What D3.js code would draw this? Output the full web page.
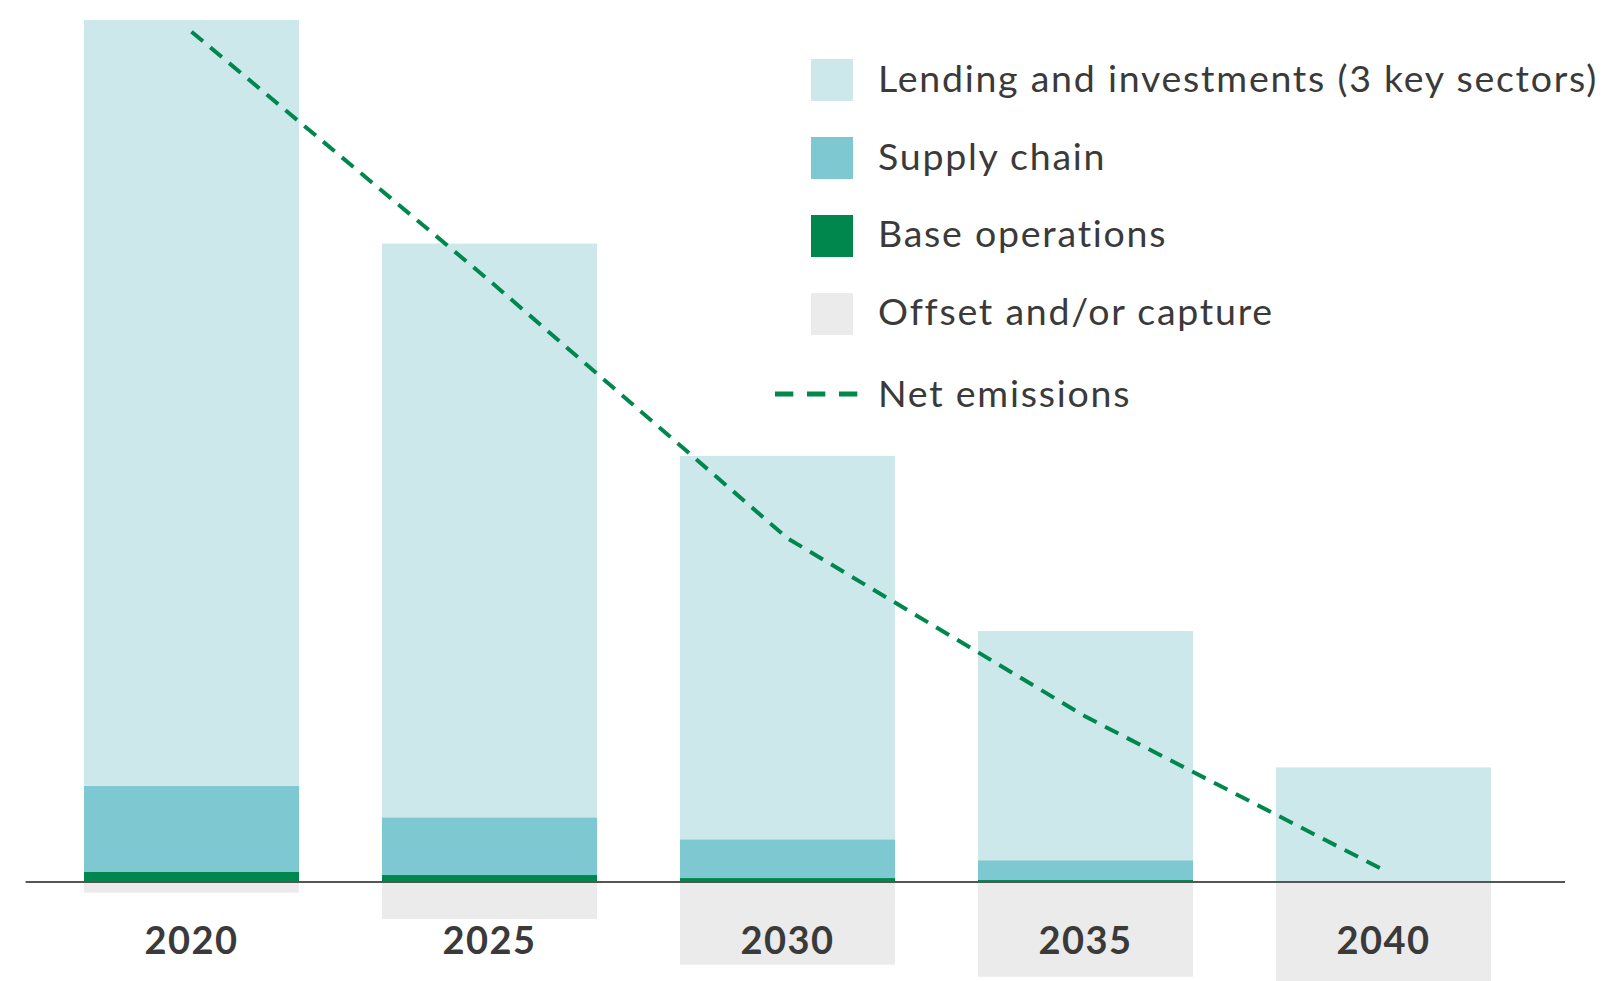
<!DOCTYPE html>
<html>
<head>
<meta charset="utf-8">
<script src="https://cdn.jsdelivr.net/npm/d3@7"></script>
<style>
  html, body { margin: 0; padding: 0; background: #fff; overflow: hidden; }
  svg { display: block; }
  text { font-family: Lato, "Open Sans", sans-serif; }
</style>
</head>
<body>
<svg id="chart" width="1604" height="981"></svg>
<script>
// ---- data ----
const years = ["2020", "2025", "2030", "2035", "2040"];
const lending = [88.9, 66.6, 44.5, 26.6, 13.3];
const supplyChain = [10.0, 6.7, 4.5, 2.3, 0];
const baseOps = [1.16, 0.81, 0.46, 0.23, 0];
const offsetCapture = [-1.24, -4.3, -9.6, -11.0, -11.9];
const netEmissions = [98.7, 69.8, 39.9, 19.2, 1.4];
const legendLabels = ["Lending and investments (3 key sectors)", "Supply chain", "Base operations", "Offset and/or capture", "Net emissions"];

// ---- styles ----
const colors = {
  lending: "#cce8eb",
  supply: "#7ec9d1",
  base: "#00874e",
  offset: "#ebebeb",
  net: "#00874e",
  axis: "#555555",
  text: "#3a3a3a"
};

const svg = d3.select("#chart");

const x = d3.scaleBand()
  .domain(years)
  .range([42.5, 1532.5])
  .paddingInner(0.2785)
  .paddingOuter(0.13925);

const y = d3.scaleLinear()
  .domain([0, 100])
  .range([882, 20.5]);

const rows = years.map((yr, i) => ({
  year: yr,
  base: baseOps[i],
  supply: supplyChain[i],
  lending: lending[i],
  offset: offsetCapture[i],
  net: netEmissions[i]
}));

const stack = d3.stack().keys(["base", "supply", "lending"]);
const series = stack(rows);
const keyColor = { base: colors.base, supply: colors.supply, lending: colors.lending };

// offset bars (below zero)
svg.append("g").selectAll("rect")
  .data(rows)
  .join("rect")
  .attr("x", d => x(d.year))
  .attr("width", x.bandwidth())
  .attr("y", y(0))
  .attr("height", d => y(d.offset) - y(0))
  .attr("fill", colors.offset);

// stacked positive bars
svg.append("g").selectAll("g")
  .data(series)
  .join("g")
  .attr("fill", s => keyColor[s.key])
  .selectAll("rect")
  .data(s => s)
  .join("rect")
  .attr("x", d => x(d.data.year))
  .attr("width", x.bandwidth())
  .attr("y", d => y(d[1]))
  .attr("height", d => Math.max(0, y(d[0]) - y(d[1])));

// baseline
svg.append("line")
  .attr("x1", 25.6).attr("x2", 1565)
  .attr("y1", y(0)).attr("y2", y(0))
  .attr("stroke", colors.axis)
  .attr("stroke-width", 2);

// x-axis labels
const xAxis = d3.axisBottom(x).tickSize(0).tickPadding(0);
const gx = svg.append("g")
  .attr("transform", `translate(0, ${y(0)})`)
  .call(xAxis);
gx.select(".domain").remove();
gx.selectAll("text")
  .attr("dy", null)
  .attr("y", 72)
  .attr("font-size", 38)
  .attr("font-weight", 700)
  .attr("letter-spacing", 1.5)
  .attr("font-family", "Lato, 'Open Sans', sans-serif")
  .attr("fill", colors.text);

// net emissions dashed line
const line = d3.line()
  .x((d, i) => x(years[i]) + x.bandwidth() / 2)
  .y(d => y(d));

svg.append("path")
  .datum(netEmissions)
  .attr("d", line)
  .attr("fill", "none")
  .attr("stroke", colors.net)
  .attr("stroke-width", 4)
  .attr("stroke-dasharray", "15 9.5");

// legend
const legend = svg.append("g");
const swatchColors = [colors.lending, colors.supply, colors.base, colors.offset];
const rowY = [59, 137, 215, 293];
swatchColors.forEach((c, i) => {
  legend.append("rect")
    .attr("x", 811).attr("y", rowY[i])
    .attr("width", 42).attr("height", 42)
    .attr("fill", c);
});
legend.append("line")
  .attr("x1", 775).attr("x2", 858)
  .attr("y1", 394).attr("y2", 394)
  .attr("stroke", colors.net)
  .attr("stroke-width", 5)
  .attr("stroke-dasharray", "18.3 13.7");

const textBase = [92, 170, 247, 325, 407];
const legendTexts = legendLabels.map((t, i) =>
  legend.append("text")
    .attr("x", 878)
    .attr("y", textBase[i])
    .attr("font-size", 37.5)
    .attr("fill", colors.text)
    .text(t)
);
// widen spacing so the longest label spans the same width as in the reference
const firstNode = legendTexts[0].node();
const w0 = firstNode.getComputedTextLength();
const targetW = 720;
const ls = (targetW - w0) / legendLabels[0].length;
legendTexts.forEach(t => t.attr("letter-spacing", ls));
</script>
</body>
</html>
